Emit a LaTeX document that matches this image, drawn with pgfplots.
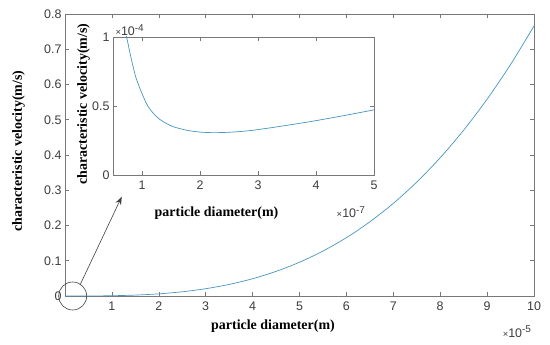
\documentclass[border=0pt]{standalone}
\usepackage{pgfplots}
\pgfplotsset{compat=1.18}
\usepackage{fontspec}
\setmainfont{Liberation Serif}
\newfontfamily\ticksans{Liberation Sans}
\usetikzlibrary{arrows.meta}
\definecolor{curve}{RGB}{70,150,190}
\definecolor{axgray}{RGB}{120,120,120}
\definecolor{ticktext}{RGB}{60,60,60}
\newcommand{\sci}[1]{{\fontsize{9.5}{10}\selectfont ×}10\textsuperscript{\fontsize{10}{10}\selectfont #1}}
\begin{document}
\begin{tikzpicture}
\useasboundingbox (-65bp,-49bp) rectangle (485bp,296bp);
\pgfplotsset{
  matlab/.style={
    scale only axis,
    axis line style={axgray, line width=0.6pt},
    every tick/.style={axgray, line width=0.6pt},
    tick align=inside,
    major tick length=4bp,
    tick label style={font=\fontsize{12.5}{14}\ticksans, text=ticktext},
    /pgf/number format/assume math mode=true,
    scaled ticks=false,
  }
}
% main axis
\begin{axis}[matlab,
  at={(0,0)}, anchor=south west,
  width=469bp, height=282bp,
  xmin=0, xmax=10, ymin=0, ymax=0.8,
  xtick={1,2,...,10},
  ytick={0,0.1,...,0.8},
  yticklabels={0,0.1,0.2,0.3,0.4,0.5,0.6,0.7,0.8},
  xticklabel style={yshift=-2bp},
  clip=false,
]
\addplot[curve, line width=0.7pt, smooth] coordinates {
(0,0) (0.5,0.0001) (1,0.00077) (1.5,0.0026) (2,0.0061) (2.5,0.012)
(3,0.0207) (3.5,0.0328) (4,0.049) (4.5,0.0698) (5,0.0958) (5.5,0.1275)
(6,0.1655) (6.5,0.2104) (7,0.2627) (7.5,0.3232) (8,0.3922) (8.5,0.4704)
(9,0.5584) (9.5,0.6567) (10,0.766)
};
\draw[black!75, line width=0.6pt] (axis cs:0.164,0) circle[radius=14bp];
\draw[black!75, line width=0.6pt, -{Stealth[length=8bp,width=6bp]}] (axis cs:0.32,0.0312) -- (axis cs:1.209,0.2817);
\end{axis}
% main labels
\node[font=\fontsize{14}{16}\selectfont\bfseries] at (208bp,-29.7bp) {particle diameter(m)};
\node[font=\fontsize{14}{16}\selectfont\bfseries, rotate=90] at (-46.5bp,145bp) {characteristic velocity(m/s)};
\node[anchor=east, font=\fontsize{12.5}{14}\ticksans, text=ticktext] at (470bp,-35.7bp) {\sci{-5}};
% inset axis
\begin{axis}[matlab,
  at={(48bp,121bp)}, anchor=south west,
  width=261bp, height=138bp,
  xmin=0.5, xmax=5, ymin=0, ymax=1,
  xtick={1,2,3,4,5},
  ytick={0,0.5,1},
  yticklabels={0,0.5,1},
  axis background/.style={fill=white},
  xticklabel style={yshift=-2bp},
  clip=true,
]
\addplot[curve, line width=0.7pt, smooth] coordinates {
(0.70,1.06) (0.75,0.97) (0.8,0.87) (0.85,0.78) (0.9,0.70) (1.0,0.59)
(1.1,0.50) (1.2,0.445) (1.3,0.405) (1.4,0.378) (1.5,0.357) (1.6,0.342)
(1.8,0.322) (2.0,0.311) (2.2,0.307) (2.4,0.308) (2.6,0.312) (2.8,0.319)
(3.0,0.329) (3.5,0.360) (4.0,0.394) (4.5,0.432) (5.0,0.472)
};
\end{axis}
\node[font=\fontsize{14}{16}\selectfont\bfseries] at (151.5bp,82.7bp) {particle diameter(m)};
\node[font=\fontsize{14}{16}\selectfont\bfseries, rotate=90] at (18.5bp,192bp) {characteristic velocity(m/s)};
\node[anchor=west, font=\fontsize{12.5}{14}\ticksans, text=ticktext] at (47bp,266bp) {\sci{-4}};
\node[anchor=east, font=\fontsize{12.5}{14}\ticksans, text=ticktext] at (304bp,84bp) {\sci{-7}};
\end{tikzpicture}
\end{document}
